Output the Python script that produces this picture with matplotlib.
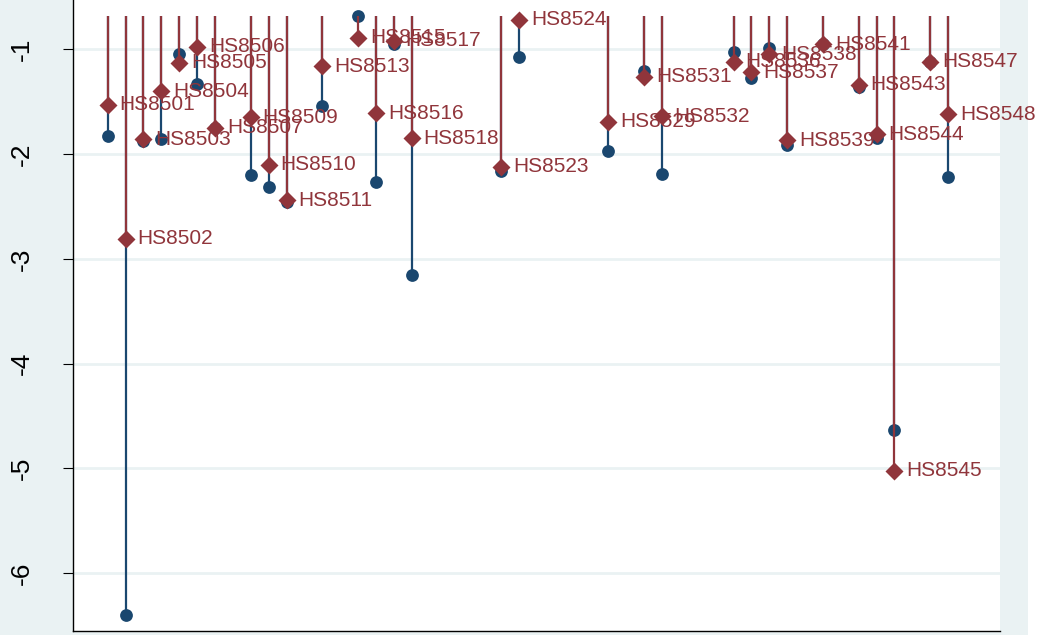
import numpy as np
import matplotlib
matplotlib.use("Agg")
import matplotlib.pyplot as plt
from matplotlib.patches import Rectangle

plt.rcParams['font.family'] = ['Liberation Sans', 'DejaVu Sans']

# HS codes (x position = code - 8500) and the two estimates per code
codes = [8501, 8502, 8503, 8504, 8505, 8506, 8507, 8509, 8510, 8511,
         8513, 8515, 8516, 8517, 8518, 8523, 8524, 8529, 8531, 8532,
         8536, 8537, 8538, 8539, 8541, 8543, 8544, 8545, 8547, 8548]
est_navy = [-1.83, -6.40, -1.88, -1.86, -1.05, -1.33, -1.75, -2.20, -2.31, -2.46,
            -1.54, -0.68, -2.27, -0.95, -3.15, -2.16, -1.07, -1.97, -1.21, -2.19,
            -1.03, -1.27, -0.985, -1.91, -0.95, -1.36, -1.85, -4.63, -1.12, -2.22]
est_maroon = [-1.53, -2.81, -1.86, -1.40, -1.13, -0.975, -1.75, -1.65, -2.10, -2.44,
              -1.16, -0.89, -1.61, -0.92, -1.85, -2.12, -0.72, -1.69, -1.26, -1.64,
              -1.12, -1.22, -1.05, -1.87, -0.95, -1.34, -1.81, -5.02, -1.12, -1.62]
labels = ["HS%d" % c for c in codes]

NAVY = "#1a476f"
MAROON = "#90353b"
BG = "#eaf2f3"
drop_base = -0.682

x = np.array(codes) - 8500

fig = plt.figure(figsize=(10.4, 6.35), dpi=100, facecolor=BG)
# white strip on the far right edge
fig.patches.append(Rectangle((1028 / 1040, 0), 12 / 1040, 1, transform=fig.transFigure,
                             facecolor="white", edgecolor="none", zorder=-1))
ax = fig.add_axes([73 / 1040, 4 / 635, 927 / 1040, 631 / 635])
ax.set_facecolor("white")

ax.vlines(x, drop_base, est_navy, color=NAVY, lw=1.6, zorder=2)
ax.plot(x, est_navy, "o", color=NAVY, ms=9.2, mec="none", zorder=3, clip_on=False)
ax.vlines(x, drop_base, est_maroon, color=MAROON, lw=1.6, zorder=4)
ax.plot(x, est_maroon, "D", color=MAROON, ms=9.2, mec="none", zorder=5, clip_on=False)

for xi, yi, lab in zip(x, est_maroon, labels):
    ax.annotate(lab, (xi, yi), xytext=(8.6, 0), textcoords="offset points",
                va="center", ha="left", fontsize=15, color=MAROON, zorder=6)

ax.set_xlim(-0.94, 50.9)
ax.set_ylim(-6.551, -0.53)
ax.set_yticks([-6, -5, -4, -3, -2, -1])
ax.set_yticklabels(["-6", "-5", "-4", "-3", "-2", "-1"], rotation=90, va="center")
ax.tick_params(axis="y", length=7.2, width=0.8, labelsize=19, pad=21)
ax.set_xticks([])
ax.grid(axis="y", color=BG, lw=2)
ax.set_axisbelow(True)
for side in ("top", "right"):
    ax.spines[side].set_visible(False)
for side in ("left", "bottom"):
    ax.spines[side].set_linewidth(1.0)
    ax.spines[side].set_color("black")

fig.savefig("out.png", dpi=100, facecolor=BG)
